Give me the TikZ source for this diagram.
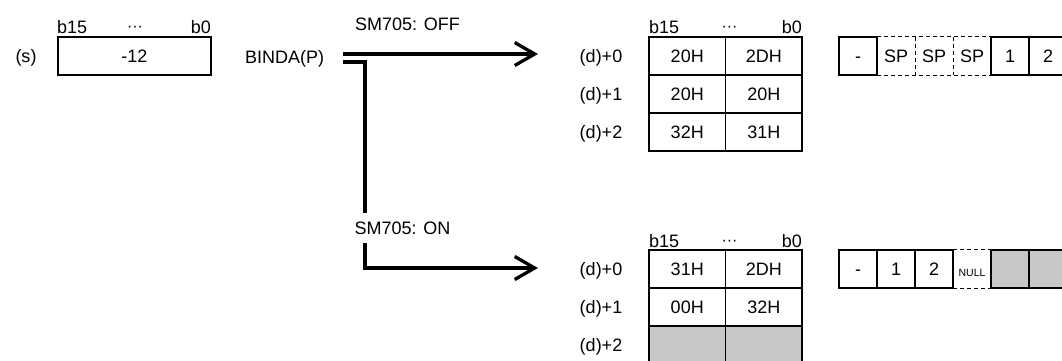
\documentclass[tikz,border=0pt]{standalone}
\usepackage{fontspec}
\setmainfont{Liberation Sans}
\usetikzlibrary{arrows.meta}
\definecolor{EmptyClr}{RGB}{199,200,202}
\newcommand\cellfont{\fontsize{18}{20}\selectfont}
\newcommand\smallcellfont{\fontsize{10.5}{12}\selectfont}
\tikzset{
  lbl/.style={font=\cellfont,inner sep=0pt,text height=12.9pt,text depth=0pt},
  bitdots/.style={font=\fontsize{16}{16}\selectfont,inner sep=0pt,anchor=base},
  word/.style={lbl,draw,line width=1.2pt,minimum width=76.5pt,minimum height=38pt},
  chr/.style={lbl,minimum width=38pt,minimum height=38pt},
  chrbox/.style={chr,draw,line width=1.2pt},
  empty/.style={fill=EmptyClr},
  flow/.style={line width=3.3pt,-{Straight Barb[length=20pt,width=23pt]}},
  dashline/.style={line width=1.2pt,dash pattern=on 4pt off 3pt}
}

\begin{document}
\begin{tikzpicture}[x=1pt,y=-1pt]
\useasboundingbox (0,0) rectangle (1062,360);

\node[lbl] (s) at (26,56) {(s)};
\node[word,minimum width=153pt] (src) at (134.5,56) {-12};
\node[lbl,anchor=west] (srcb15) at (57,27) {b15};
\node[lbl,anchor=east] (srcb0) at (211,27) {b0};
\node[bitdots] (srcdots) at (135,31.5) {···};

\node[lbl] (binda) at (284.5,57) {BINDA(P)};
\coordinate (offstart) at (343,54);
\coordinate (offend) at (538,54);
\coordinate (onstart) at (343,62);
\coordinate (onbend) at (365,268);
\coordinate (onend) at (538,268);
\draw[flow] (offstart) -- (offend);
\draw[flow] (onstart) -| (onbend) -- (onend);
\node[lbl,anchor=west] (off) at (355,24) {SM705: OFF};
\node[lbl,fill=white,inner xsep=1pt,inner ysep=9pt] (on) at (402.5,228) {SM705: ON};

% SM705 off
\node[lbl] (offd0) at (601,56) {(d)+0};
\node[lbl] (offd1) at (601,94) {(d)+1};
\node[lbl] (offd2) at (601,132) {(d)+2};
\node[lbl,anchor=west] (offb15) at (649,27) {b15};
\node[lbl,anchor=east] (offb0) at (802,27) {b0};
\node[bitdots] (offdots) at (729.5,31.5) {···};
\node[word] (offh0) at (687.25,56) {20H};
\node[word] (offl0) at (763.75,56) {2DH};
\node[word] (offh1) at (687.25,94) {20H};
\node[word] (offl1) at (763.75,94) {20H};
\node[word] (offh2) at (687.25,132) {32H};
\node[word] (offl2) at (763.75,132) {31H};

\node[chr] (offsp1) at (896,56) {SP};
\node[chr] (offsp2) at (934,56) {SP};
\node[chr] (offsp3) at (972,56) {SP};
\draw[dashline] (offsp1.north west) -- (offsp3.north east);
\draw[dashline] (offsp1.south west) -- (offsp3.south east);
\draw[dashline] (offsp1.north east) -- (offsp1.south east);
\draw[dashline] (offsp2.north east) -- (offsp2.south east);
\node[chrbox] (offminus) at (858,56) {-};
\node[chrbox] (offone) at (1010,56) {1};
\node[chrbox] (offtwo) at (1048,56) {2};

% SM705 on
\node[lbl] (ond0) at (601,269) {(d)+0};
\node[lbl] (ond1) at (601,307) {(d)+1};
\node[lbl] (ond2) at (601,345) {(d)+2};
\node[lbl,anchor=west] (onb15) at (649,241) {b15};
\node[lbl,anchor=east] (onb0) at (802,241) {b0};
\node[bitdots] (ondots) at (729.5,245.5) {···};
\node[word] (onh0) at (687.25,269) {31H};
\node[word] (onl0) at (763.75,269) {2DH};
\node[word] (onh1) at (687.25,307) {00H};
\node[word] (onl1) at (763.75,307) {32H};
\node[word,empty] (onh2) at (687.25,345) {};
\node[word,empty] (onl2) at (763.75,345) {};

\node[chr] (onnull) at (972,269) {};
\node[font=\smallcellfont,inner sep=0pt,anchor=base] (onnulltext) at (972,276) {NULL};
\draw[dashline] (onnull.north west) -- (onnull.north east);
\draw[dashline] (onnull.south west) -- (onnull.south east);
\node[chrbox] (onminus) at (858,269) {-};
\node[chrbox] (onone) at (896,269) {1};
\node[chrbox] (ontwo) at (934,269) {2};
\node[chrbox,empty] (onfree1) at (1010,269) {};
\node[chrbox,empty] (onfree2) at (1048,269) {};

\end{tikzpicture}
\end{document}
